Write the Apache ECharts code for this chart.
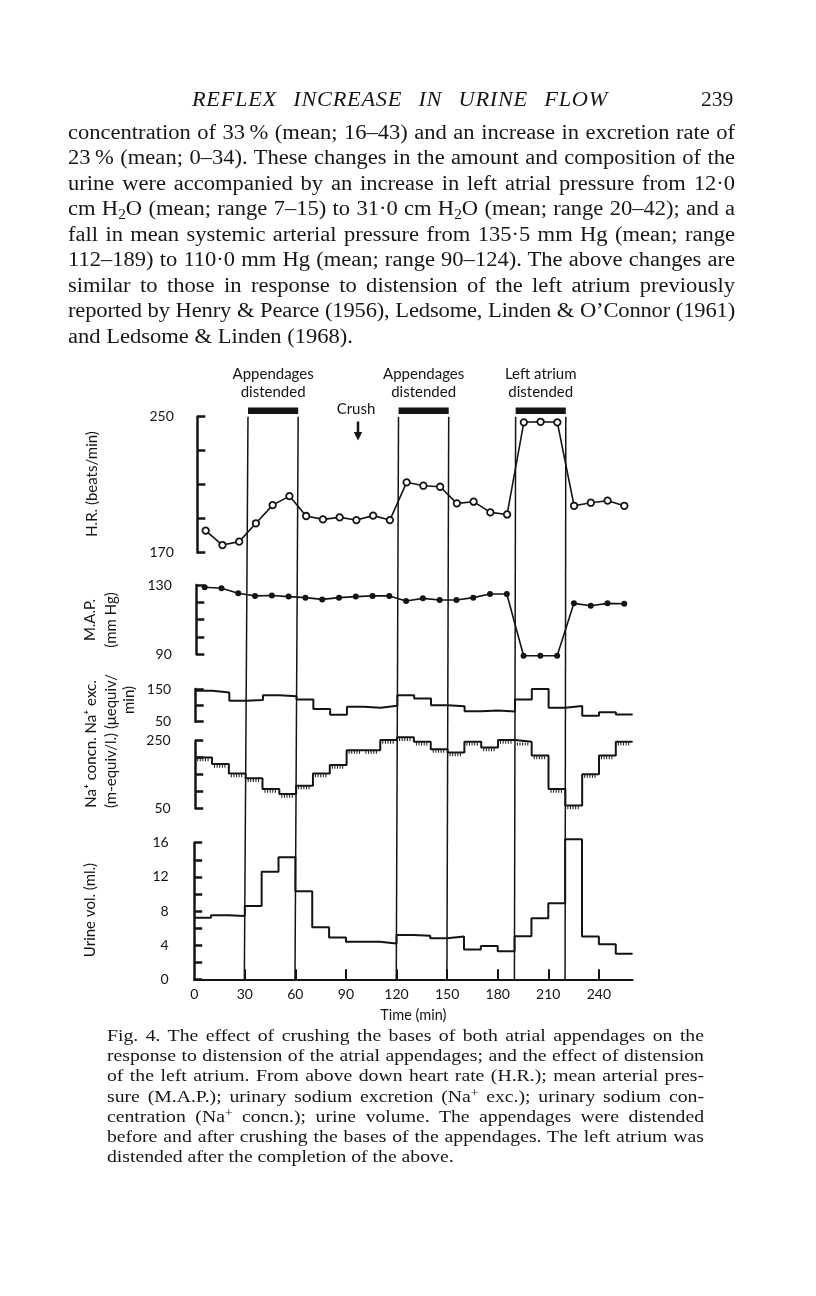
<!DOCTYPE html>
<html><head><meta charset="utf-8">
<script src="https://cdn.jsdelivr.net/npm/echarts@6/dist/echarts.min.js"></script>
<style>
html,body{margin:0;padding:0;background:#fff;}
#page{position:relative;width:816px;height:1296px;overflow:hidden;background:#fff;}
#chart{position:absolute;left:0;top:0;width:816px;height:1296px;}
.t{position:absolute;white-space:nowrap;font-family:"Liberation Serif","DejaVu Serif",serif;color:#161616;transform-origin:0 0;}
.j{text-align:justify;text-align-last:justify;}
sub{font-size:68%;vertical-align:-0.28em;line-height:0;}
sup{font-size:68%;vertical-align:0.45em;line-height:0;}
</style></head><body>
<div id="page"><div id="chart"></div><div id="prose"></div></div>
<script>
// ---------------- data ----------------
const timeLabels = [0, 30, 60, 90, 120, 150, 180, 210, 240];
const timeTicks = [30, 60, 90, 120, 150, 180, 210, 240];
const periodStarts = [0,10,20,30,40,50,60,70,80,90,100,110,120,130,140,150,160,170,180,190,200,210,220,230,240,250];
const periodEnd = 260;
const hrTimes = [5,15,25,35,45,55,65,75,85,95,105,115,125,135,145,155,165,175,185,195,205,215,225,235,245,255];
const heartRate = [183,174.5,176.5,187.3,198,203.3,191.6,189.6,190.8,189.2,191.8,189.2,211.4,209.4,208.8,199,200,193.7,192.5,246.7,247,246.7,197.6,199.4,200.6,197.6];
const meanArterialPressure = [128.7,128.1,125.2,123.7,123.9,123.3,122.7,121.7,122.7,123.3,123.7,123.7,120.8,122.3,121.3,121.3,122.7,124.8,124.8,89.2,89.2,89.2,119.4,118,119.4,119.2];
const naExcretion = [145,139,114,116,131,128,118,89,71,96,93,99,131,121,100,97,82,84,81,118,150,93,98,68,79,72];
const naConcentration = [200,181,153,139,107,92,117,153,178,222,222,252,260,247,225,215,247,230,252,247,206,107,58,151,206,247];
const urineVolume = [7.2,7.5,7.4,8.6,12.6,14.3,10.3,6.1,4.9,4.4,4.4,4.2,5.2,5.1,4.8,5.0,3.5,3.9,3.3,5.05,7.15,8.9,16.4,5.0,4.1,3.0];
const verticalLineTimes = [30, 60, 120, 150, 190, 220];
const distensionStarts = [30, 120, 190];
const distensionEnds = [60, 150, 220];
const distensionLabels = ['Appendages\ndistended', 'Appendages\ndistended', 'Left atrium\ndistended'];
const hrTicks = [170,190,210,230,250], hrLabels = [170,250];
const mapTicks = [90,100,110,120,130], mapLabels = [90,130];
const excTicks = [50,100,150], excLabels = [50,150];
const concTicks = [50,100,150,200,250], concLabels = [50,250];
const urineTicks = [0,2,4,6,8,10,12,14,16], urineLabels = [0,4,8,12,16];

const headerTitle = 'REFLEX INCREASE IN URINE FLOW';
const pageNumber = '239';
const bodyLines = [
 'concentration of 33&thinsp;% (mean; 16–43) and an increase in excretion rate of',
 '23&thinsp;% (mean; 0–34). These changes in the amount and composition of the',
 'urine were accompanied by an increase in left atrial pressure from 12·0',
 'cm H<sub>2</sub>O (mean; range 7–15) to 31·0 cm H<sub>2</sub>O (mean; range 20–42); and a',
 'fall in mean systemic arterial pressure from 135·5 mm Hg (mean; range',
 '112–189) to 110·0 mm Hg (mean; range 90–124). The above changes are',
 'similar to those in response to distension of the left atrium previously',
 'reported by Henry &amp; Pearce (1956), Ledsome, Linden &amp; O’Connor (1961)',
 'and Ledsome &amp; Linden (1968).'
];
const captionLines = [
 'Fig. 4. The effect of crushing the bases of both atrial appendages on the',
 'response to distension of the atrial appendages; and the effect of distension',
 'of the left atrium. From above down heart rate (H.R.); mean arterial pres-',
 'sure (M.A.P.); urinary sodium excretion (Na<sup>+</sup> exc.); urinary sodium con-',
 'centration (Na<sup>+</sup> concn.); urine volume. The appendages were distended',
 'before and after crushing the bases of the appendages. The left atrium was',
 'distended after the completion of the above.'
];

// ---------------- prose ----------------
const prose = document.getElementById('prose');
function addLine(html, left, width, cy, size, lh, justify, sx, extra) {
  const d = document.createElement('div');
  d.className = 't' + (justify ? ' j' : '');
  d.style.left = left + 'px';
  if (width) d.style.width = (width / sx) + 'px';
  d.style.top = (cy - lh / 2 - 1) + 'px';
  d.style.height = lh + 'px';
  d.style.lineHeight = lh + 'px';
  d.style.fontSize = size + 'px';
  d.style.transform = 'scaleX(' + sx + ')';
  if (extra) Object.assign(d.style, extra);
  d.innerHTML = html;
  prose.appendChild(d);
  return d;
}
addLine(headerTitle, 192, 416, 100, 20, 26, true, 1.12, {fontStyle: 'italic', letterSpacing: '0.6px'});
addLine(pageNumber, 701, null, 100, 20, 26, false, 1.08);
const bodyY = [133, 158.5, 184, 209.5, 235, 260.5, 286, 311.5, 337];
bodyLines.forEach((l, i) => addLine(l, 68, i < bodyLines.length - 1 ? 667 : null, bodyY[i], 20.5, 25, i < bodyLines.length - 1, 1.1));
const capY = [1037, 1057.2, 1077.4, 1097.6, 1117.8, 1138, 1158.2];
captionLines.forEach((l, i) => addLine(l, 107, i < captionLines.length - 1 ? 597 : null, capY[i], 17, 20, i < captionLines.length - 1, 1.16));
// shrink letter spacing if a justified line would overflow
document.querySelectorAll('.j').forEach(d => {
  let ls = parseFloat(d.style.letterSpacing) || 0;
  let guard = 0;
  while (d.scrollWidth > d.clientWidth + 0.5 && guard < 40) { ls -= 0.05; d.style.letterSpacing = ls + 'px'; guard++; }
});

// ---------------- chart ----------------
const INK = '#141414';
const FONT = 'Lato, "Open Sans", sans-serif';
// the scanned figure is slightly compressed towards its top edge
const BOT = {y: 979.3, left: 193.7, width: 438.9};
const TOPM = {y: 418, left: 197.8, width: 434.9};
function geo(top, height) {
  const f = (BOT.y - (top + height / 2)) / (BOT.y - TOPM.y);
  return {top: top, height: height, left: BOT.left + (TOPM.left - BOT.left) * f, width: BOT.width + (TOPM.width - BOT.width) * f};
}
const SKEW_K = TOPM.width / BOT.width;
const SKEW_DT = (TOPM.left - BOT.left) / (BOT.width / periodEnd);

const grids = [
  geo(407.5, 6.5),     // 0 distension bars
  geo(416.7, 136),     // 1 HR
  geo(585, 69.3),      // 2 MAP
  geo(689, 32.7),      // 3 Na exc
  geo(740.7, 67.6),    // 4 Na concn
  geo(842.7, 136.6),   // 5 urine
  {top: 416.7, height: 562.6, left: BOT.left, width: BOT.width} // 6 vertical lines
];

function hiddenX(i) { return {gridIndex: i, type: 'value', min: 0, max: periodEnd, show: false}; }
const xAxes = grids.map((g, i) => hiddenX(i));
xAxes[5] = {
  gridIndex: 5, type: 'value', min: 0, max: periodEnd,
  axisLine: {show: true, lineStyle: {color: INK, width: 2}},
  axisTick: {show: true, inside: true, length: 10, customValues: timeTicks, lineStyle: {color: INK, width: 2}},
  axisLabel: {customValues: timeLabels, color: INK, fontFamily: FONT, fontSize: 14, margin: 8},
  splitLine: {show: false},
  name: 'Time (min)', nameLocation: 'middle', nameGap: 29,
  nameTextStyle: {color: INK, fontFamily: FONT, fontSize: 14.5}
};
function yAx(i, min, max, ticks, labels, offset) {
  return {
    gridIndex: i, type: 'value', min: min, max: max, offset: offset,
    axisLine: {show: true, lineStyle: {color: INK, width: 2.5}},
    axisTick: {show: true, inside: true, length: 8, customValues: ticks, lineStyle: {color: INK, width: 2.5}},
    axisLabel: {customValues: labels, color: INK, fontFamily: FONT, fontSize: 14, margin: 8},
    splitLine: {show: false}
  };
}
const yAxes = [
  {gridIndex: 0, type: 'value', min: 0, max: 1, show: false},
  yAx(1, 170, 250, hrTicks, hrLabels, 15.5),
  yAx(2, 90, 130, mapTicks, mapLabels, 16.5),
  yAx(3, 50, 150, excTicks, excLabels, 16.5),
  yAx(4, 50, 250, concTicks, concLabels, 16.5),
  yAx(5, 0, 16, urineTicks, urineLabels, 17.5),
  {gridIndex: 6, type: 'value', min: 0, max: 1, show: false}
];

function stepData(vals) {
  const d = periodStarts.map((t, i) => [t, vals[i]]);
  d.push([periodEnd, vals[vals.length - 1]]);
  return d;
}
function stepSeries(idx, vals) {
  return {type: 'line', xAxisIndex: idx, yAxisIndex: idx, step: 'end', data: stepData(vals),
    symbol: 'none', clip: false, lineStyle: {color: INK, width: 2}, z: 5};
}

const series = [
  { // distension bars + labels
    type: 'custom', xAxisIndex: 0, yAxisIndex: 0, clip: false,
    data: distensionStarts.map((s, i) => [s, distensionEnds[i]]),
    encode: {x: [0, 1]},
    renderItem: function (params, api) {
      const p1 = api.coord([api.value(0), 1]);
      const p2 = api.coord([api.value(1), 0]);
      return {type: 'group', children: [
        {type: 'rect', shape: {x: p1[0], y: p1[1], width: p2[0] - p1[0], height: p2[1] - p1[1]}, style: {fill: INK}},
        {type: 'text', style: {text: distensionLabels[params.dataIndex], x: (p1[0] + p2[0]) / 2, y: p1[1] - 6,
          align: 'center', verticalAlign: 'bottom', fill: INK, font: '15px ' + FONT, lineHeight: 18}}
      ]};
    }
  },
  { // vertical period lines
    type: 'custom', xAxisIndex: 6, yAxisIndex: 6, clip: false,
    data: verticalLineTimes.map(t => [t]),
    encode: {x: 0},
    renderItem: function (params, api) {
      const t = api.value(0);
      const b = api.coord([t, 0]);
      const tp = api.coord([SKEW_DT + SKEW_K * t, 1]);
      return {type: 'line', shape: {x1: tp[0], y1: tp[1], x2: b[0], y2: b[1]}, style: {stroke: INK, lineWidth: 1.5}};
    }
  },
  { // heart rate
    type: 'line', xAxisIndex: 1, yAxisIndex: 1, clip: false, z: 6,
    data: hrTimes.map((t, i) => [t, heartRate[i]]),
    symbol: 'circle', symbolSize: 6.5,
    itemStyle: {color: '#fff', borderColor: INK, borderWidth: 1.8},
    lineStyle: {color: INK, width: 1.6}
  },
  { // mean arterial pressure
    type: 'line', xAxisIndex: 2, yAxisIndex: 2, clip: false, z: 6,
    data: hrTimes.map((t, i) => [t, meanArterialPressure[i]]),
    symbol: 'circle', symbolSize: 6,
    itemStyle: {color: INK},
    lineStyle: {color: INK, width: 1.6}
  },
  stepSeries(3, naExcretion),
  stepSeries(4, naConcentration),
  { // hatch under Na concn segments
    type: 'custom', xAxisIndex: 4, yAxisIndex: 4, clip: false, z: 4,
    data: periodStarts.map((t, i) => [t, i < periodStarts.length - 1 ? periodStarts[i + 1] : periodEnd, naConcentration[i]]),
    encode: {x: [0, 1], y: 2},
    renderItem: function (params, api) {
      const a = api.coord([api.value(0), api.value(2)]);
      const b = api.coord([api.value(1), api.value(2)]);
      return {type: 'line', shape: {x1: a[0] + 2, y1: a[1] + 2.2, x2: b[0] - 2, y2: b[1] + 2.2},
        style: {stroke: INK, lineWidth: 3, lineDash: [1, 1.6]}};
    }
  },
  stepSeries(5, urineVolume)
];

function vText(text, x, y) {
  return {type: 'text', x: x, y: y, rotation: Math.PI / 2,
    style: {text: text, align: 'center', verticalAlign: 'middle', fill: INK, font: '15px ' + FONT}};
}
const graphics = [
  vText('H.R. (beats/min)', 92, 484),
  vText('M.A.P.', 90, 620),
  vText('(mm Hg)', 111, 620),
  vText('Na\u207A concn. Na\u207A exc.', 91, 744),
  vText('(m-equiv/l.) (\u03BCequiv/', 111, 741),
  vText('min)', 129, 700),
  vText('Urine vol. (ml.)', 90, 910),
  {type: 'text', x: 356, y: 409, style: {text: 'Crush', align: 'center', verticalAlign: 'middle', fill: INK, font: '15px ' + FONT}},
  {type: 'line', shape: {x1: 358, y1: 421.5, x2: 358, y2: 434}, style: {stroke: INK, lineWidth: 2.5}},
  {type: 'polygon', shape: {points: [[353.8, 432], [362.2, 432], [358, 440.5]]}, style: {fill: INK}}
];

const chart = echarts.init(document.getElementById('chart'), null, {renderer: 'canvas'});
chart.setOption({
  animation: false,
  backgroundColor: 'transparent',
  grid: grids,
  xAxis: xAxes,
  yAxis: yAxes,
  series: series,
  graphic: graphics
});
</script>
</body></html>
